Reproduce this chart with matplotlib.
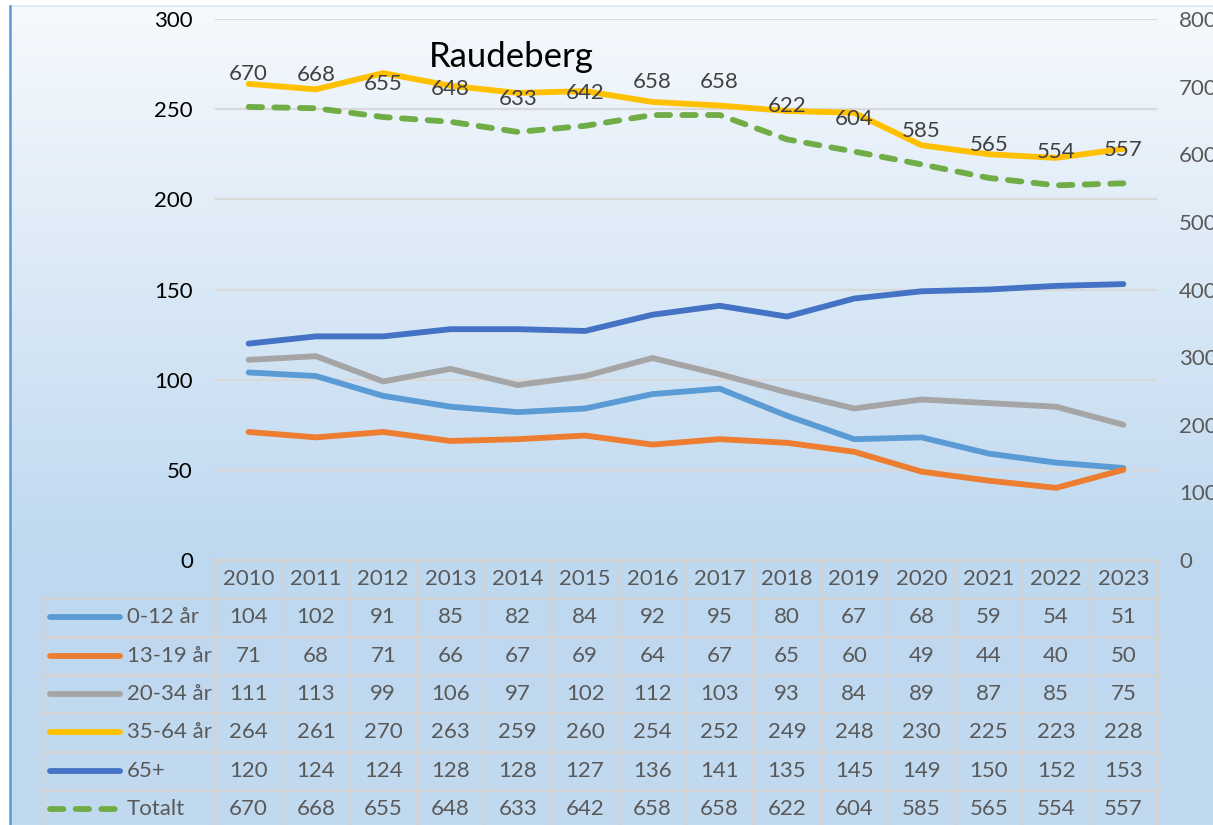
import numpy as np
import matplotlib.pyplot as plt
from matplotlib.colors import LinearSegmentedColormap

plt.rcParams["font.family"] = ["Lato", "DejaVu Sans"]

years = [2010, 2011, 2012, 2013, 2014, 2015, 2016,
         2017, 2018, 2019, 2020, 2021, 2022, 2023]

age_0_12 = [104, 102, 91, 85, 82, 84, 92, 95, 80, 67, 68, 59, 54, 51]
age_13_19 = [71, 68, 71, 66, 67, 69, 64, 67, 65, 60, 49, 44, 40, 50]
age_20_34 = [111, 113, 99, 106, 97, 102, 112, 103, 93, 84, 89, 87, 85, 75]
age_35_64 = [264, 261, 270, 263, 259, 260, 254, 252, 249, 248, 230, 225, 223, 228]
age_65 = [120, 124, 124, 128, 128, 127, 136, 141, 135, 145, 149, 150, 152, 153]
totalt = [670, 668, 655, 648, 633, 642, 658, 658, 622, 604, 585, 565, 554, 557]

series = [
    ("0-12 år", age_0_12, "#5b9bd5"),
    ("13-19 år", age_13_19, "#ed7d31"),
    ("20-34 år", age_20_34, "#a5a5a5"),
    ("35-64 år", age_35_64, "#ffc000"),
    ("65+", age_65, "#4472c4"),
]
total_color = "#70ad47"

W, H = 1213, 825
TXT = "#595959"
FS = 16
LW = 4.2
DASH = (2.3, 2.1)


def px_box(x0, y0, x1, y1):
    return [x0 / W, 1 - y1 / H, (x1 - x0) / W, (y1 - y0) / H]


fig = plt.figure(figsize=(W / 100, H / 100), dpi=100)

# background: white margin, thin blue left edge, vertical blue gradient
bg = fig.add_axes([0, 0, 1, 1], zorder=-10)
bg.set_xlim(0, W)
bg.set_ylim(H, 0)
bg.axis("off")
cmap = LinearSegmentedColormap.from_list(
    "bg", [(0, "#f6f9fd"), (0.68, "#bed8ef"), (1, "#c2daf0")])
grad = np.linspace(0, 1, 256).reshape(-1, 1)
bg.imshow(grad, cmap=cmap, aspect="auto", extent=(10, W, H, 6))
bg.plot([10, W], [6, 6], color="#dbe7f4", lw=1.2)
bg.plot([10, 10], [6, H], color="#5b9bd5", lw=1.8)

# main chart area
left, right, top, bottom = 215, 1157, 19, 560
ax = fig.add_axes(px_box(left, top, right, bottom))
ax.set_facecolor("none")
x = np.arange(len(years))
ax.set_xlim(-0.5, len(years) - 0.5)
ax.set_ylim(0, 300)
ax.set_yticks(range(0, 301, 50))
ax.grid(axis="y", color="#d9d9d9", lw=1.6)
ax.set_axisbelow(True)
ax.set_xticks([])
for s in ax.spines.values():
    s.set_visible(False)
ax.tick_params(axis="y", length=0, pad=16, labelsize=FS, labelcolor="black")

for name, vals, col in series:
    ax.plot(x, vals, color=col, lw=LW, solid_capstyle="round",
            solid_joinstyle="round")

ax2 = ax.twinx()
ax2.set_ylim(0, 800)
ax2.set_yticks(range(0, 801, 100))
for s in ax2.spines.values():
    s.set_visible(False)
ax2.tick_params(axis="y", length=0, pad=16, labelsize=FS, labelcolor=TXT)
ax2.plot(x, totalt, color=total_color, lw=LW, dashes=DASH,
         dash_capstyle="round", dash_joinstyle="round")
for xi, v in zip(x, totalt):
    ax2.annotate(str(v), (xi, v), xytext=(0, 33), textcoords="offset pixels",
                 ha="center", va="center", fontsize=FS, color="#404040")

fig.text(511 / W, 1 - 67 / H, "Raudeberg", ha="center", va="baseline",
         fontsize=25, color="black")

# data table under the chart
col_w = (right - left) / len(years)
row_h = 38.3
tab_left = 42
x0 = -0.5 - (left - tab_left) / col_w
n_rows = (H - bottom) / row_h
tab = fig.add_axes(px_box(tab_left, bottom, right + 2, H))
tab.set_xlim(x0, len(years) - 0.5 + 2 / col_w)
tab.set_ylim(n_rows, 0)
tab.axis("off")

grid_kw = dict(color="#d3d3d3", lw=1.8, clip_on=False)
tab.plot([-0.5, len(years) - 0.5], [0, 0], **grid_kw)
for k in range(1, 8):
    tab.plot([x0, len(years) - 0.5], [k, k], **grid_kw)
for c in np.arange(-0.5, len(years), 1.0):
    tab.plot([c, c], [0, 8], **grid_kw)
tab.plot([x0, x0], [1, 8], **grid_kw)

for i, yr in enumerate(years):
    tab.text(i, 0.5, str(yr), ha="center", va="center", fontsize=FS, color=TXT)

rows = [(n, v, c, None) for n, v, c in series]
rows.append(("Totalt", totalt, total_color, DASH))
sx0 = x0 + (50 - tab_left) / col_w
sx1 = x0 + (120 - tab_left) / col_w
lx = x0 + (127 - tab_left) / col_w
for k, (name, vals, col, dash) in enumerate(rows, start=1):
    yc = k + 0.5
    if dash:
        tab.plot([sx0, sx1], [yc, yc], color=col, lw=LW, dashes=dash,
                 dash_capstyle="round")
    else:
        tab.plot([sx0, sx1], [yc, yc], color=col, lw=LW,
                 solid_capstyle="round")
    tab.text(lx, yc, name, ha="left", va="center", fontsize=FS, color=TXT)
    for i, v in enumerate(vals):
        tab.text(i, yc, str(v), ha="center", va="center", fontsize=FS,
                 color=TXT)

fig.savefig("out.png", dpi=100)
